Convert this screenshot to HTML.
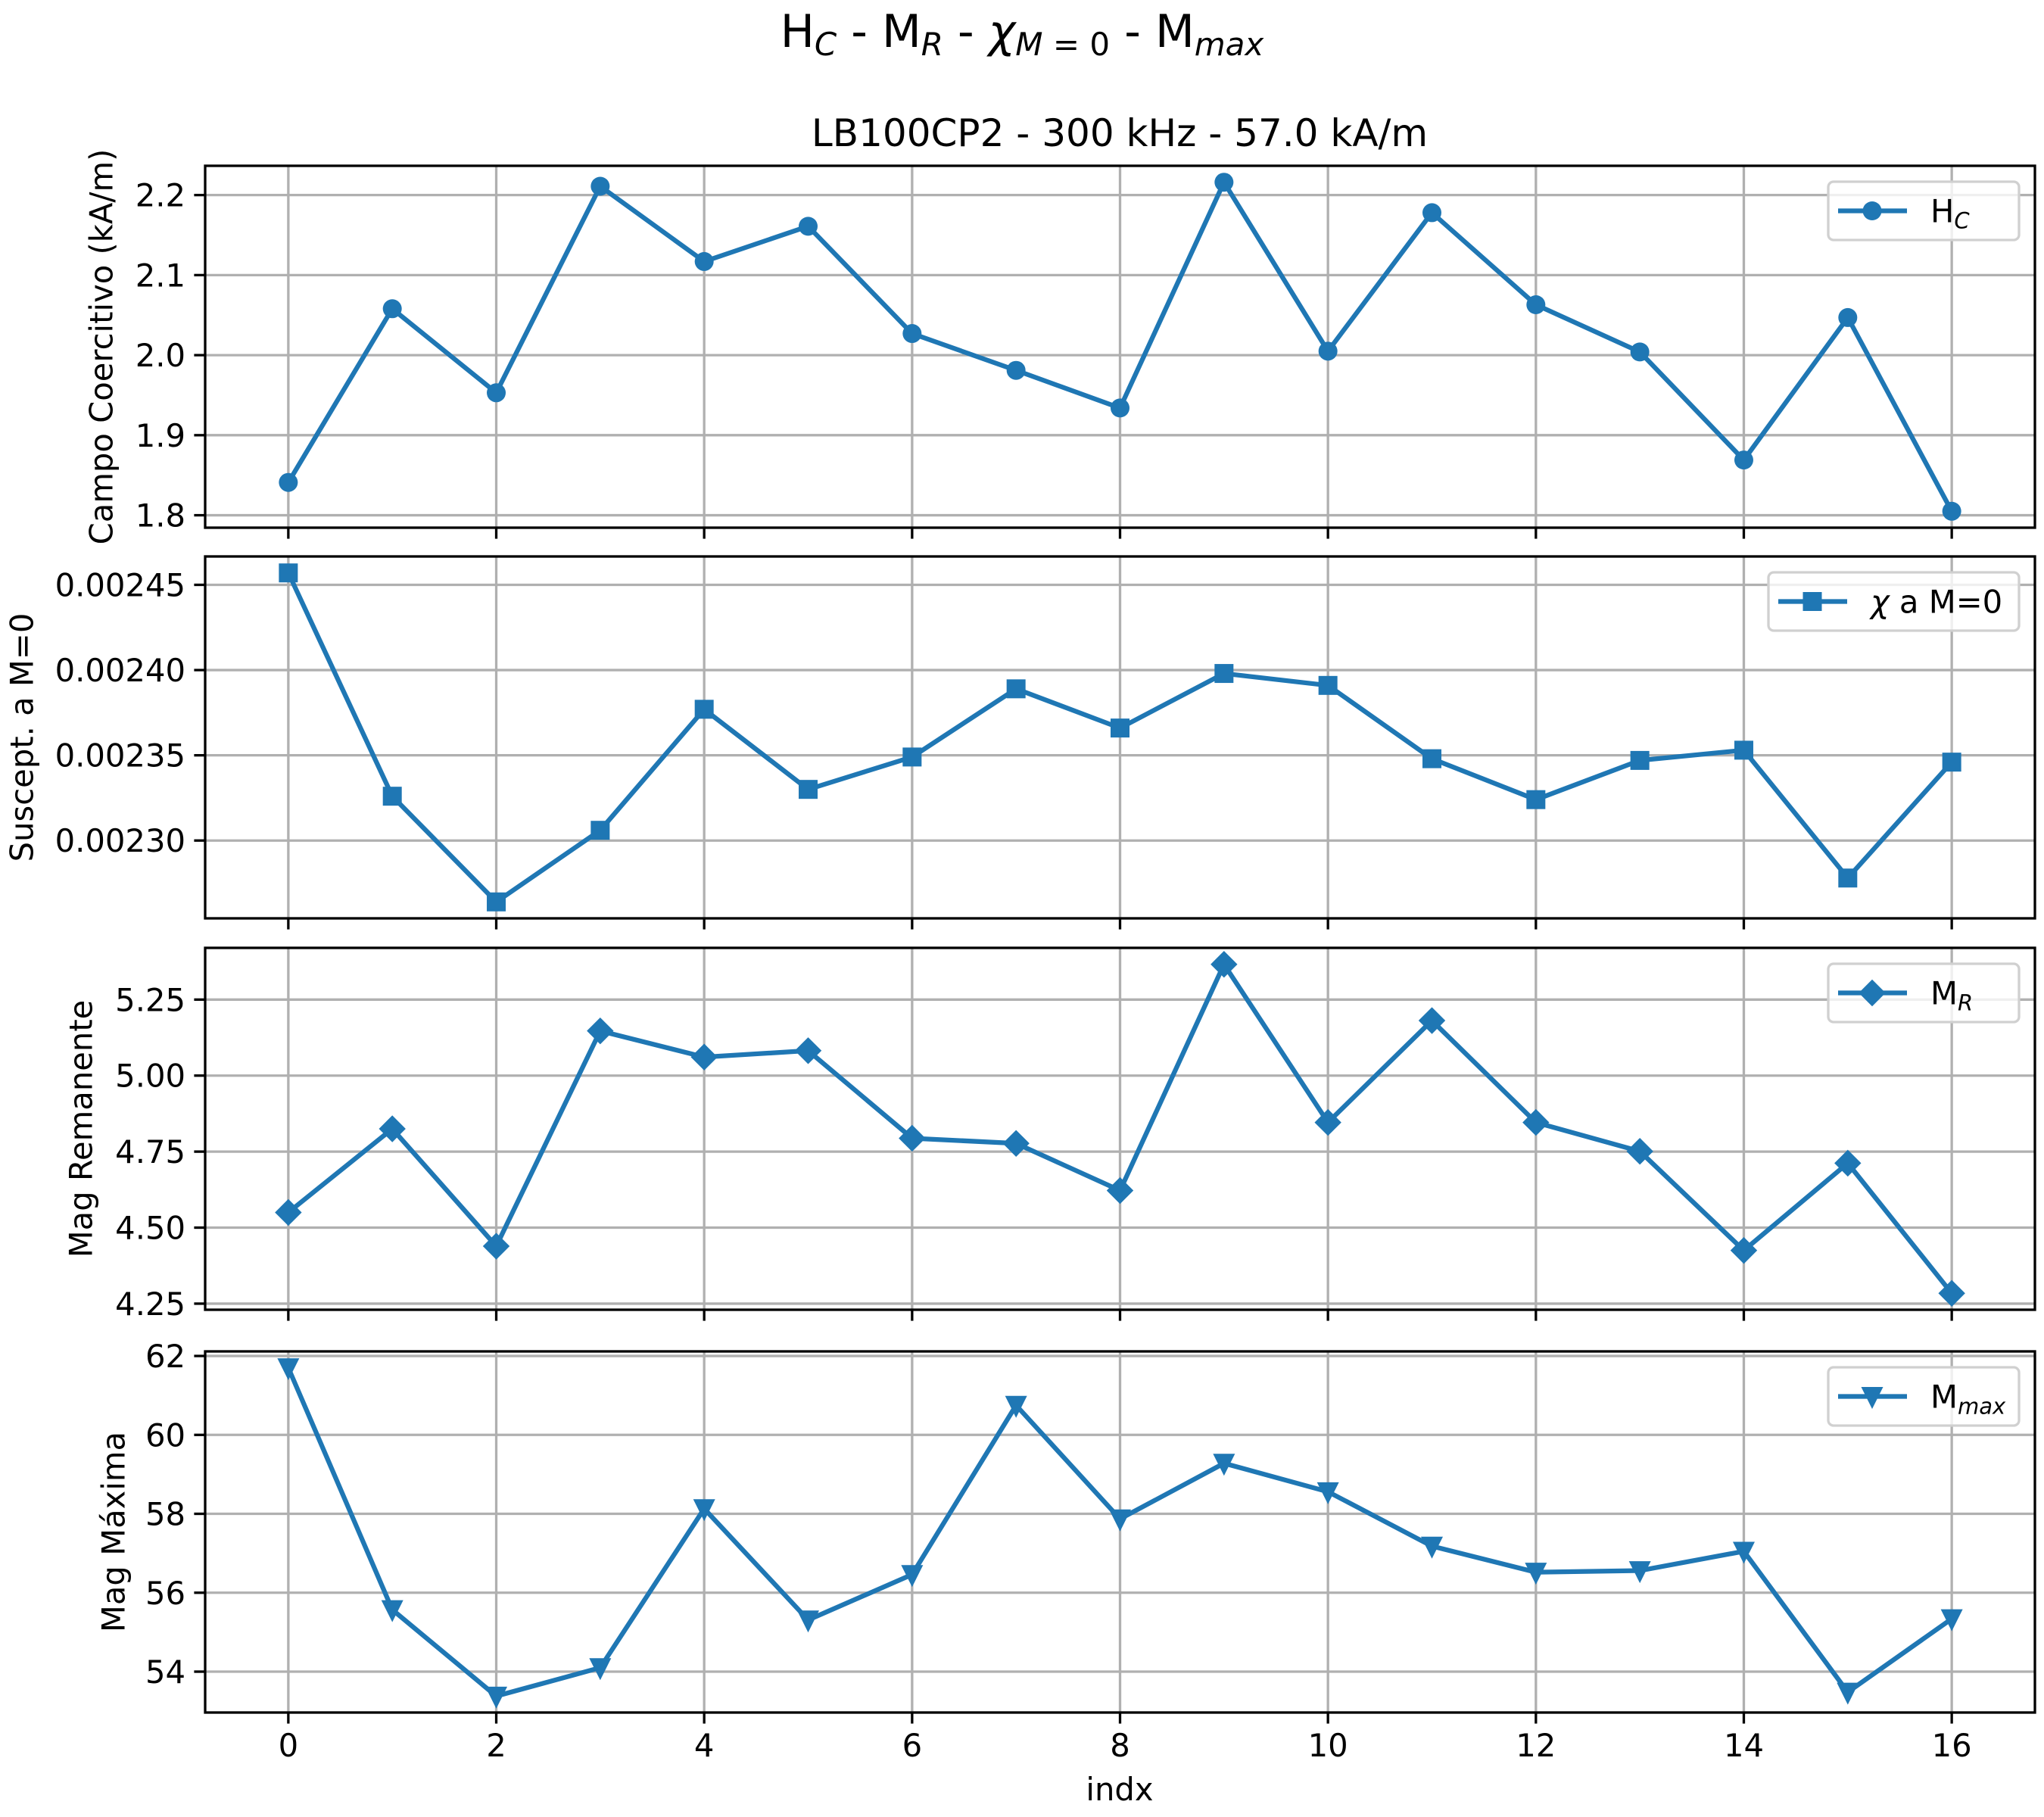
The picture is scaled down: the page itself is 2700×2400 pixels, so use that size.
<!DOCTYPE html>
<html><head><meta charset="utf-8"><style>
html,body{margin:0;padding:0;background:#fff}
svg{display:block;font-family:"DejaVu Sans","Liberation Sans",sans-serif}
</style></head><body>
<svg id="fig" width="2700" height="2400" viewBox="0 0 2700 2400" xmlns="http://www.w3.org/2000/svg">
<rect width="2700" height="2400" fill="#fff"/>
<text x="1350" y="62" text-anchor="middle" font-size="60">H<tspan font-style="italic" font-size="42" dy="11">C</tspan><tspan dy="-11"> - M</tspan><tspan font-style="italic" font-size="42" dy="11">R</tspan><tspan dy="-11"> - </tspan><tspan font-style="italic">χ</tspan><tspan font-size="42" dy="11"><tspan font-style="italic">M</tspan> = 0</tspan><tspan dy="-11"> - M</tspan><tspan font-style="italic" font-size="42" dy="11">max</tspan></text>
<text x="1479" y="193" text-anchor="middle" font-size="50">LB100CP2 - 300 kHz - 57.0 kA/m</text>
<text x="1479" y="2378" text-anchor="middle" font-size="41.7">indx</text>
</svg>
<script>
const indices = [0,1,2,3,4,5,6,7,8,9,10,11,12,13,14,15,16];
const hcValues = [1.841,2.058,1.953,2.211,2.117,2.161,2.027,1.981,1.934,2.216,2.005,2.178,2.063,2.004,1.869,2.047,1.805];
const chiValues = [0.002457,0.002326,0.002264,0.002306,0.002377,0.002330,0.002349,0.002389,0.002366,0.002398,0.002391,0.002348,0.002324,0.002347,0.002353,0.002278,0.002346];
const mrValues = [4.55,4.825,4.439,5.147,5.061,5.082,4.794,4.777,4.622,5.366,4.846,5.181,4.846,4.751,4.425,4.712,4.284];
const mmaxValues = [61.70,55.57,53.38,54.10,58.13,55.31,56.46,60.75,57.87,59.28,58.56,57.18,56.52,56.56,57.05,53.48,55.34];
const xTicks = [0,2,4,6,8,10,12,14,16];
const hcTicks = [1.8,1.9,2.0,2.1,2.2];
const hcTickLabels = ["1.8","1.9","2.0","2.1","2.2"];
const chiTicks = [0.0023,0.00235,0.0024,0.00245];
const chiTickLabels = ["0.00230","0.00235","0.00240","0.00245"];
const mrTicks = [4.25,4.5,4.75,5.0,5.25];
const mrTickLabels = ["4.25","4.50","4.75","5.00","5.25"];
const mmaxTicks = [54,56,58,60,62];
const mmaxTickLabels = ["54","56","58","60","62"];

const NS="http://www.w3.org/2000/svg";
const svg=document.getElementById('fig');
const C="#1f77b4";
const L=271,R=2688;
const xMin=-0.8,xMax=16.8;
function xs(v){return L+(v-xMin)/(xMax-xMin)*(R-L);}
function mk(tag,attrs,parent){const e=document.createElementNS(NS,tag);for(const k in attrs)e.setAttribute(k,attrs[k]);(parent||svg).appendChild(e);return e;}

const panels=[
 {key:'hc',vals:hcValues,ticks:hcTicks,labels:hcTickLabels,top:219,bot:697,ylabel:'Campo Coercitivo (kA/m)',ylx:134,marker:'o',legend:'H',sub:'C'},
 {key:'chi',vals:chiValues,ticks:chiTicks,labels:chiTickLabels,top:735,bot:1213,ylabel:'Suscept. a M=0',ylx:29,marker:'s',legend:'chi',sub:''},
 {key:'mr',vals:mrValues,ticks:mrTicks,labels:mrTickLabels,top:1252,bot:1730,ylabel:'Mag Remanente',ylx:107,marker:'D',legend:'M',sub:'R'},
 {key:'mmax',vals:mmaxValues,ticks:mmaxTicks,labels:mmaxTickLabels,top:1785,bot:2262,ylabel:'Mag Máxima',ylx:150,marker:'v',legend:'M',sub:'max'}
];

function drawMarker(g,type,x,y){
  let e;
  if(type==='o'){e=mk('circle',{cx:x,cy:y,r:12.5,fill:C},g);}
  else if(type==='s'){e=mk('rect',{x:x-12.5,y:y-12.5,width:25,height:25,fill:C},g);}
  else if(type==='D'){e=mk('polygon',{points:`${x},${y-17.7} ${x+17.7},${y} ${x},${y+17.7} ${x-17.7},${y}`,fill:C},g);}
  else {e=mk('polygon',{points:`${x-14.5},${y-12.5} ${x+14.5},${y-12.5} ${x},${y+16.5}`,fill:C},g);}
  return e;
}

panels.forEach((p,pi)=>{
  const mn=Math.min(...p.vals),mx=Math.max(...p.vals),pad=(mx-mn)*0.05;
  const y0=mn-pad,y1=mx+pad;
  const ys=v=>p.bot-(v-y0)/(y1-y0)*(p.bot-p.top);
  const g=mk('g',{});
  
  
  xTicks.forEach(t=>{
    const l=mk('line',{x1:xs(t),x2:xs(t),y1:p.top,y2:p.bot,stroke:'#b0b0b0','stroke-width':3.3},g);
    
    
  });
  p.ticks.forEach((t,i)=>{
    const y=ys(t);
    const l=mk('line',{x1:L,x2:R,y1:y,y2:y,stroke:'#b0b0b0','stroke-width':3.3},g);
    
    
    const tk=mk('line',{x1:L-14.6,x2:L,y1:y,y2:y,stroke:'#000','stroke-width':3.3},g);
    
    
    const tx=mk('text',{x:L-26,y:y+15,'text-anchor':'end','font-size':41.7},g);
    tx.textContent=p.labels[i];
    
    
  });
  xTicks.forEach(t=>{
    const tk=mk('line',{x1:xs(t),x2:xs(t),y1:p.bot,y2:p.bot+14.6,stroke:'#000','stroke-width':3.3},g);
    
    
    if(pi===3){
      const tx=mk('text',{x:xs(t),y:p.bot+58,'text-anchor':'middle','font-size':41.7},g);
      tx.textContent=String(t);
      
      
    }
  });
  const pts=p.vals.map((v,i)=>xs(indices[i])+','+ys(v)).join(' ');
  const pl=mk('polyline',{points:pts,fill:'none',stroke:C,'stroke-width':6.25,'stroke-linejoin':'round'},g);
  
  
  p.vals.forEach((v,i)=>{
    const m=drawMarker(g,p.marker,xs(indices[i]),ys(v));
    
    
  });
  const fr=mk('rect',{x:L,y:p.top,width:R-L,height:p.bot-p.top,fill:'none',stroke:'#000','stroke-width':3.3},g);
  
  
  const cy=(p.top+p.bot)/2;
  const yl=mk('text',{x:p.ylx,y:cy,'text-anchor':'middle','dominant-baseline':'central','font-size':41.7,transform:`rotate(-90 ${p.ylx} ${cy})`},g);
  yl.textContent=p.ylabel;
  
  
  const lw = p.key==='chi'?331:252;
  const lx=R-21-lw, ly=p.top+21, lh=77;
  const lg=mk('g',{},g);
  
  
  mk('rect',{x:lx,y:ly,width:lw,height:lh,rx:7,fill:'#fff','fill-opacity':0.8,stroke:'#d0d0d0','stroke-width':3.3},lg);
  const my=ly+lh/2;
  mk('line',{x1:lx+13,x2:lx+104,y1:my,y2:my,stroke:C,'stroke-width':6.25},lg);
  drawMarker(lg,p.marker,lx+58,my);
  const lt=mk('text',{x:lx+135,y:my+15,'font-size':41.7},lg);
  
  
  if(p.legend==='chi'){
    lt.innerHTML='<tspan font-style="italic">χ</tspan> a M=0';
  } else {
    lt.innerHTML=p.legend+'<tspan font-style="italic" font-size="29" dy="8">'+p.sub+'</tspan>';
  }
});
</script>
</body></html>
